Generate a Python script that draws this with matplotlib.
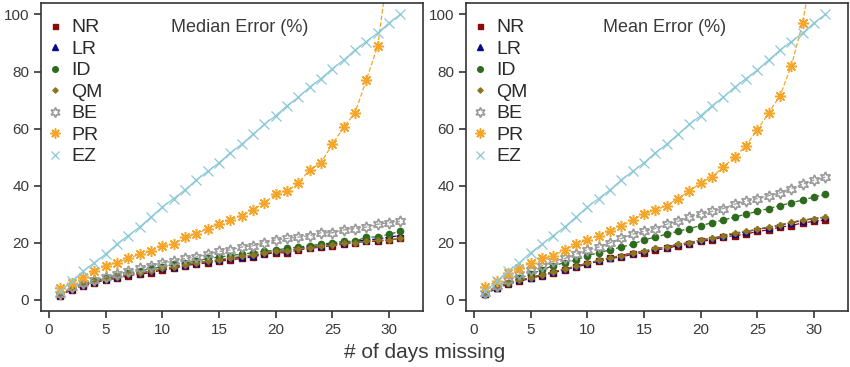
import numpy as np
import matplotlib
matplotlib.use('Agg')
import matplotlib.pyplot as plt

plt.rcParams['font.family'] = ['Liberation Sans', 'DejaVu Sans']

days = list(range(1, 32))

# Median error (%)
med_nr = [1.5, 3.5, 5, 6, 7, 7.5, 8.5, 9, 9.5, 10.5, 11, 12, 12.5, 13, 13.5, 14, 14.5, 15, 16, 16.5,
          16.5, 17.5, 18, 18.5, 19, 19.5, 20, 20.5, 20.5, 21, 21.5]
med_lr = [1.8, 3.8, 5.2, 6.3, 7.3, 8, 9, 9.5, 10, 11, 11.5, 12.3, 13, 13.5, 14, 14.5, 15, 15.5, 16.3, 17,
          17.2, 18, 18.5, 19, 19.5, 20, 20.5, 21, 21.3, 22, 22.5]
med_id = [2, 4, 5.5, 6.5, 7.5, 8.5, 9.5, 10, 11, 11.5, 12.5, 13, 13.5, 14.5, 15, 15.5, 16, 16.5, 17, 17.5,
          18, 18.5, 19, 19.5, 20, 20.5, 20.5, 22, 22, 23, 24]
med_qm = [1.8, 3.8, 5.3, 6.3, 7.3, 8, 9, 9.5, 10, 11, 11.5, 12.3, 13, 13.5, 14, 14.8, 15.2, 15.8, 16.5, 17,
          17.2, 17.8, 18.2, 18.8, 19.2, 19.8, 20, 20.5, 20.8, 21, 21.5]
med_be = [2, 4.5, 6, 7, 8, 9, 10, 11, 12, 13, 13.5, 14.5, 15, 16, 17, 17.5, 18.5, 19, 20, 21,
          21.5, 22, 22.5, 23.5, 23.5, 24.5, 25, 25.5, 26.5, 27, 27.5]
med_pr = [4, 6, 8, 10, 12, 13, 14.5, 16, 17, 19, 19.5, 22, 23, 25, 26.5, 28, 29.5, 31.5, 34, 37,
          38, 41, 45.5, 48, 54.5, 60.5, 65.5, 77, 89, 118, 150]
med_ez = [3, 6.5, 10, 13, 16, 19.5, 22.5, 25.5, 29, 32.5, 35.5, 38.5, 42, 45, 48, 51.5, 54.5, 58, 61.5, 64.5,
          68, 71, 74.5, 77.5, 81, 84, 87.5, 90.5, 93.5, 97, 100]

# Mean error (%)
mean_nr = [2, 4, 5.5, 6.5, 7.5, 8.5, 9.5, 10.5, 11.5, 12.5, 13.5, 14.5, 15, 16, 16.5, 17.5, 18, 19, 19.5, 20.5,
           21, 22, 22.5, 23, 24, 24.5, 25.5, 26, 27, 27.5, 28]
mean_lr = [2.2, 4.3, 5.8, 6.8, 7.8, 8.8, 9.8, 10.8, 11.8, 12.8, 13.8, 14.8, 15.5, 16.5, 17, 18, 18.5, 19.5, 20, 21,
           21.5, 22.5, 23.2, 23.8, 24.7, 25.3, 26.2, 27, 27.8, 28.5, 29]
mean_id = [2, 4.5, 6, 7.5, 9, 10.5, 12, 13, 14, 15.5, 16.5, 17.5, 18.5, 19.5, 21, 22, 23, 24, 25, 26,
           27, 28, 29, 30, 31, 32, 33, 34, 35, 36, 37]
mean_qm = [2.2, 4.3, 5.8, 6.8, 7.8, 8.8, 9.8, 10.8, 11.8, 12.8, 13.8, 14.8, 15.5, 16.5, 17, 18, 18.5, 19.5, 20, 21,
           21.5, 22.5, 23.5, 24, 24.8, 25.5, 26.3, 27.2, 28, 28.5, 29]
mean_be = [2.5, 5, 7, 9, 10.5, 12, 13.5, 14.5, 16, 17.5, 18.5, 20, 21.5, 23, 24, 25, 26.5, 27.5, 29, 30,
           31, 32, 33.5, 34.5, 35.5, 36.5, 37.5, 39, 40.5, 42, 43]
mean_pr = [4.5, 6.5, 9.5, 11, 13, 14.5, 15.5, 17.5, 19.5, 21, 22.5, 24, 26, 28, 30, 31.5, 33, 35.5, 38, 41,
           43, 46.5, 50, 54, 59.5, 65.5, 71.5, 82, 97, 120, 150]
mean_ez = [3, 6.5, 10, 13, 16.5, 19.5, 22.5, 25.5, 29, 32.5, 35.5, 38.5, 42, 45, 48, 51.5, 54.5, 58, 61.5, 64.5,
           68, 71, 74.5, 77.5, 80.5, 84, 87.5, 90.5, 93.5, 97, 100]

labels = ['NR', 'LR', 'ID', 'QM', 'BE', 'PR', 'EZ']
colors = ['#8b0a0a', '#0a0a8c', '#2f6b1f', '#8c7620', '#9a9a9a', '#f4a62a', '#8cc8d8']

median_series = [med_nr, med_lr, med_id, med_qm, med_be, med_pr, med_ez]
mean_series = [mean_nr, mean_lr, mean_id, mean_qm, mean_be, mean_pr, mean_ez]

styles = [
    dict(marker='s', ms=4, ls='--'),
    dict(marker='^', ms=4.5, ls='--'),
    dict(marker='o', ms=4.5, ls='--'),
    dict(marker='D', ms=3, ls='--'),
    dict(marker=(6, 1, 0), ms=8, ls='--', mfc='none', mew=1.2),
    dict(marker=(8, 2, 0), ms=8, ls='--', mew=1.1),
    dict(marker='x', ms=6.5, ls='-', mew=0.9),
]

fig = plt.figure(figsize=(8.5, 3.67), dpi=100)
ax1 = fig.add_axes([41 / 850, 56 / 367, 382 / 850, 308 / 367])
ax2 = fig.add_axes([466 / 850, 56 / 367, 382 / 850, 308 / 367])

for ax, series, title in [(ax1, median_series, 'Median Error (%)'), (ax2, mean_series, 'Mean Error (%)')]:
    for lab, col, st, vals in zip(labels, colors, styles, series):
        ax.plot(days, vals, color=col, lw=0.9, label=lab, **st)
    ax.set_xlim(-0.7, 33)
    ax.set_ylim(-3.9, 104)
    ax.set_xticks([0, 5, 10, 15, 20, 25, 30])
    ax.set_yticks([0, 20, 40, 60, 80, 100])
    ax.tick_params(direction='out', length=5, width=1.2, color='#333333', labelcolor='#3a3a3a', labelsize=11)
    for s in ax.spines.values():
        s.set_color('#333333')
        s.set_linewidth(1.2)
    ax.text(0.52, 0.92, title, transform=ax.transAxes, ha='center', va='center', fontsize=13, color='#3a3a3a')
    ax.legend(loc='upper left', bbox_to_anchor=(0.016, 0.949), frameon=False, fontsize=14,
              handlelength=0.8, handletextpad=0.45, labelspacing=0.2, borderaxespad=0, borderpad=0,
              markerscale=0.9, labelcolor='#2a2a2a')
    for h in ax.get_legend().get_lines():
        h.set_linestyle('none')

fig.text(425 / 850, 1 - 352 / 367, '# of days missing', ha='center', va='center', fontsize=15, color='#3a3a3a')

fig.savefig('out.png', dpi=100)
